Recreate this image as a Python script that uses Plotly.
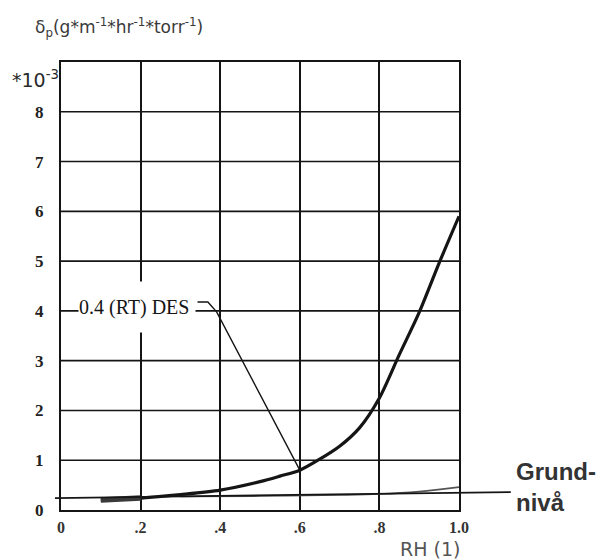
import plotly.graph_objects as go

# ---- data ----
RH_DES = [0.1, 0.2, 0.3, 0.4, 0.5, 0.55, 0.6, 0.65, 0.7, 0.75, 0.8, 0.85, 0.9, 0.95, 1.0]
DP_DES = [0.20, 0.24, 0.31, 0.40, 0.57, 0.68, 0.80, 1.02, 1.28, 1.65, 2.25, 3.12, 3.97, 4.96, 5.90]

RH_START = [0.1, 0.15, 0.2]
DP_START = [0.20, 0.215, 0.24]

RH_THIN = [0.3, 0.5, 0.7, 0.8, 0.9, 1.0]
DP_THIN = [0.27, 0.28, 0.30, 0.32, 0.37, 0.46]

GRUND_X = [-0.015, 1.13]
GRUND_Y = [0.24, 0.36]

LEADER_X = [0.343, 0.369, 0.391, 0.6]
LEADER_Y = [4.18, 4.18, 3.98, 0.80]

LABEL_TEXT = "0.4 (RT) DES"
LABEL_X = 0.043
LABEL_Y = 4.08

X_TICKS = [0, 0.2, 0.4, 0.6, 0.8, 1.0]
X_TICK_TEXT = ["0", ".2", ".4", ".6", ".8", "1.0"]
Y_TICKS = [0, 1, 2, 3, 4, 5, 6, 7, 8]
Y_TICK_TEXT = [str(v) for v in Y_TICKS]
Y_MAX = 9

INK = "#151515"

fig = go.Figure()

# horizontal grid lines, one per y tick (drawn under the data)
for yv in Y_TICKS[1:]:
    fig.add_shape(type="line", xref="x", yref="y",
                  x0=X_TICKS[0], x1=X_TICKS[-1], y0=yv, y1=yv,
                  line=dict(color=INK, width=1.6), layer="below")

fig.add_trace(go.Scatter(x=RH_THIN, y=DP_THIN, mode="lines",
                         line=dict(color="#555555", width=1.6, shape="spline"),
                         showlegend=False, hoverinfo="skip"))
fig.add_trace(go.Scatter(x=RH_DES, y=DP_DES, mode="lines",
                         line=dict(color=INK, width=3.2, shape="spline", smoothing=0.8),
                         showlegend=False, hoverinfo="skip"))
fig.add_trace(go.Scatter(x=RH_START, y=DP_START, mode="lines",
                         line=dict(color="#3a3a3a", width=5.5),
                         showlegend=False, hoverinfo="skip"))
fig.add_trace(go.Scatter(x=LEADER_X, y=LEADER_Y, mode="lines",
                         line=dict(color=INK, width=1.4),
                         showlegend=False, hoverinfo="skip"))

# Grundnivå reference line (extends beyond the frame)
fig.add_shape(type="line", xref="paper", yref="paper",
              x0=GRUND_X[0], x1=GRUND_X[1],
              y0=GRUND_Y[0] / Y_MAX, y1=GRUND_Y[1] / Y_MAX,
              line=dict(color=INK, width=1.8), layer="above")

# curve label on a white box that interrupts the grid
fig.add_annotation(x=LABEL_X, y=LABEL_Y, xref="x", yref="y",
                   text=LABEL_TEXT, showarrow=False,
                   xanchor="left", yanchor="middle", align="left", valign="middle",
                   width=116, height=50, bgcolor="white", borderpad=0,
                   font=dict(family="Liberation Serif", size=20, color=INK))

fig.add_annotation(x=-0.0704, y=1.076, xref="paper", yref="paper",
                   text="δ<sub>p</sub>(g*m<sup>-1</sup>*hr<sup>-1</sup>*torr<sup>-1</sup>)",
                   showarrow=False, xanchor="left", yanchor="middle",
                   font=dict(family="DejaVu Sans", size=17, color="#3a3a3a"))

fig.add_annotation(x=-0.128, y=0.962, xref="paper", yref="paper",
                   text="*10<sup>-3</sup>", showarrow=False,
                   xanchor="left", yanchor="middle",
                   font=dict(family="DejaVu Sans", size=19, color="#2a2a2a"))

fig.add_annotation(x=1.008, y=-0.086, xref="paper", yref="paper",
                   text="RH (1)", showarrow=False,
                   xanchor="right", yanchor="middle",
                   font=dict(family="DejaVu Sans", size=19, color="#555555"))

fig.add_annotation(x=1.138, y=0.051, xref="paper", yref="paper",
                   text="<b>Grund-</b><br><b>nivå</b>", showarrow=False,
                   xanchor="left", yanchor="middle", align="left",
                   font=dict(family="Liberation Sans", size=24, color="#333333"))

fig.update_xaxes(range=[0, 1.0], tickvals=X_TICKS, ticktext=X_TICK_TEXT,
                 showgrid=True, gridcolor=INK, gridwidth=1.6,
                 showline=True, linecolor=INK, linewidth=2.4, mirror=True,
                 zeroline=False, ticks="outside", ticklen=2,
                 tickcolor="rgba(0,0,0,0)",
                 tickfont=dict(family="Liberation Serif", size=16, color="#333333", weight="bold"))
fig.update_yaxes(range=[0, Y_MAX], tickvals=Y_TICKS, ticktext=Y_TICK_TEXT,
                 showgrid=False,
                 showline=True, linecolor=INK, linewidth=2.4, mirror=True,
                 zeroline=False, ticks="outside", ticklen=12,
                 tickcolor="rgba(0,0,0,0)",
                 tickfont=dict(family="Liberation Serif", size=17, color="#222222", weight="bold"))

fig.update_layout(width=602, height=559,
                  margin=dict(l=61, r=143, t=62, b=49),
                  paper_bgcolor="white", plot_bgcolor="white",
                  showlegend=False)

fig.write_html("out.html")
